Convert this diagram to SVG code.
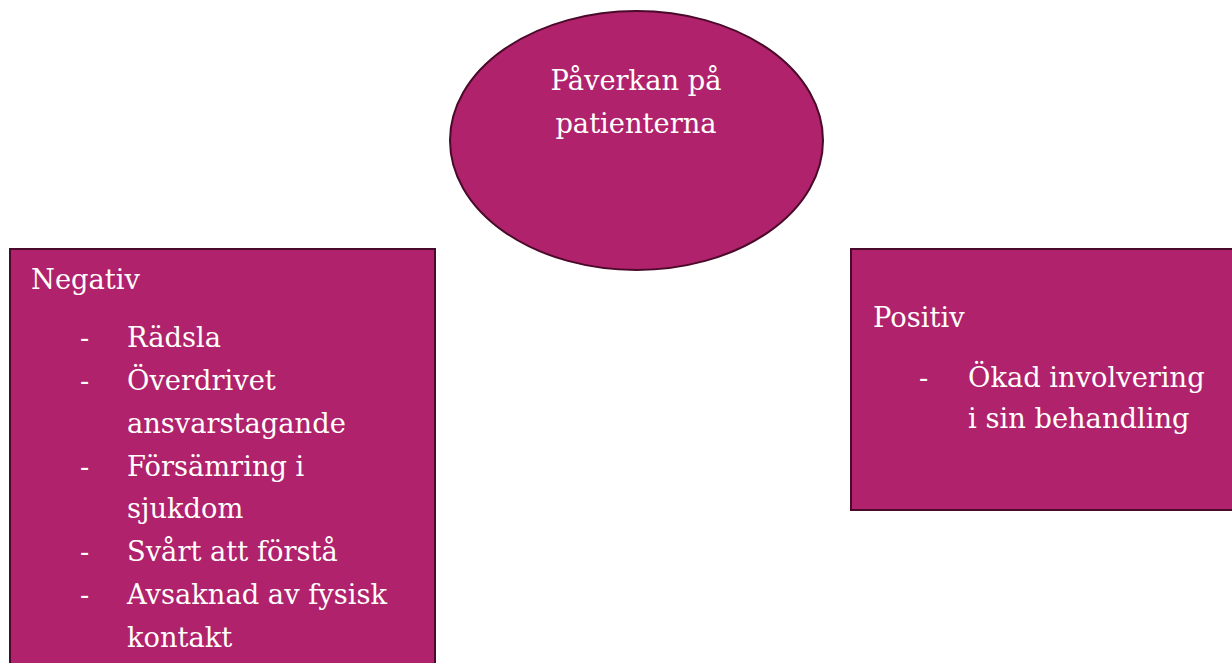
<svg xmlns="http://www.w3.org/2000/svg" width="1232" height="663" viewBox="0 0 1232 663">
<style>
.shape{fill:#B0226B;stroke:#4A0A2A;stroke-width:2}
.t{font-family:"DejaVu Serif","Liberation Serif",serif;font-size:27.3px;fill:#ffffff}
</style>
<rect width="1232" height="663" fill="#ffffff"/>
<g id="connectors"></g>
<g id="center">
<ellipse class="shape" cx="636.5" cy="140.5" rx="186.5" ry="129.5"/>
<text class="t" x="636" y="90" text-anchor="middle">Påverkan på</text>
<text class="t" x="636" y="133" text-anchor="middle">patienterna</text>
</g>
<g id="negativ">
<rect class="shape" x="10" y="249" width="425" height="430"/>
<text class="t" x="31" y="289">Negativ</text>
<g class="t">
<text x="80" y="347">-</text><text x="127" y="347">Rädsla</text>
<text x="80" y="390">-</text><text x="127" y="390">Överdrivet</text>
<text x="127" y="433">ansvarstagande</text>
<text x="80" y="476">-</text><text x="127" y="476">Försämring i</text>
<text x="127" y="518">sjukdom</text>
<text x="80" y="561">-</text><text x="127" y="561">Svårt att förstå</text>
<text x="80" y="604">-</text><text x="127" y="604">Avsaknad av fysisk</text>
<text x="127" y="647">kontakt</text>
</g>
</g>
<g id="positiv">
<rect class="shape" x="851" y="249" width="400" height="261"/>
<text class="t" x="873" y="327">Positiv</text>
<g class="t">
<text x="919" y="387">-</text><text x="968" y="387">Ökad involvering</text>
<text x="968" y="428">i sin behandling</text>
</g>
</g>
</svg>
